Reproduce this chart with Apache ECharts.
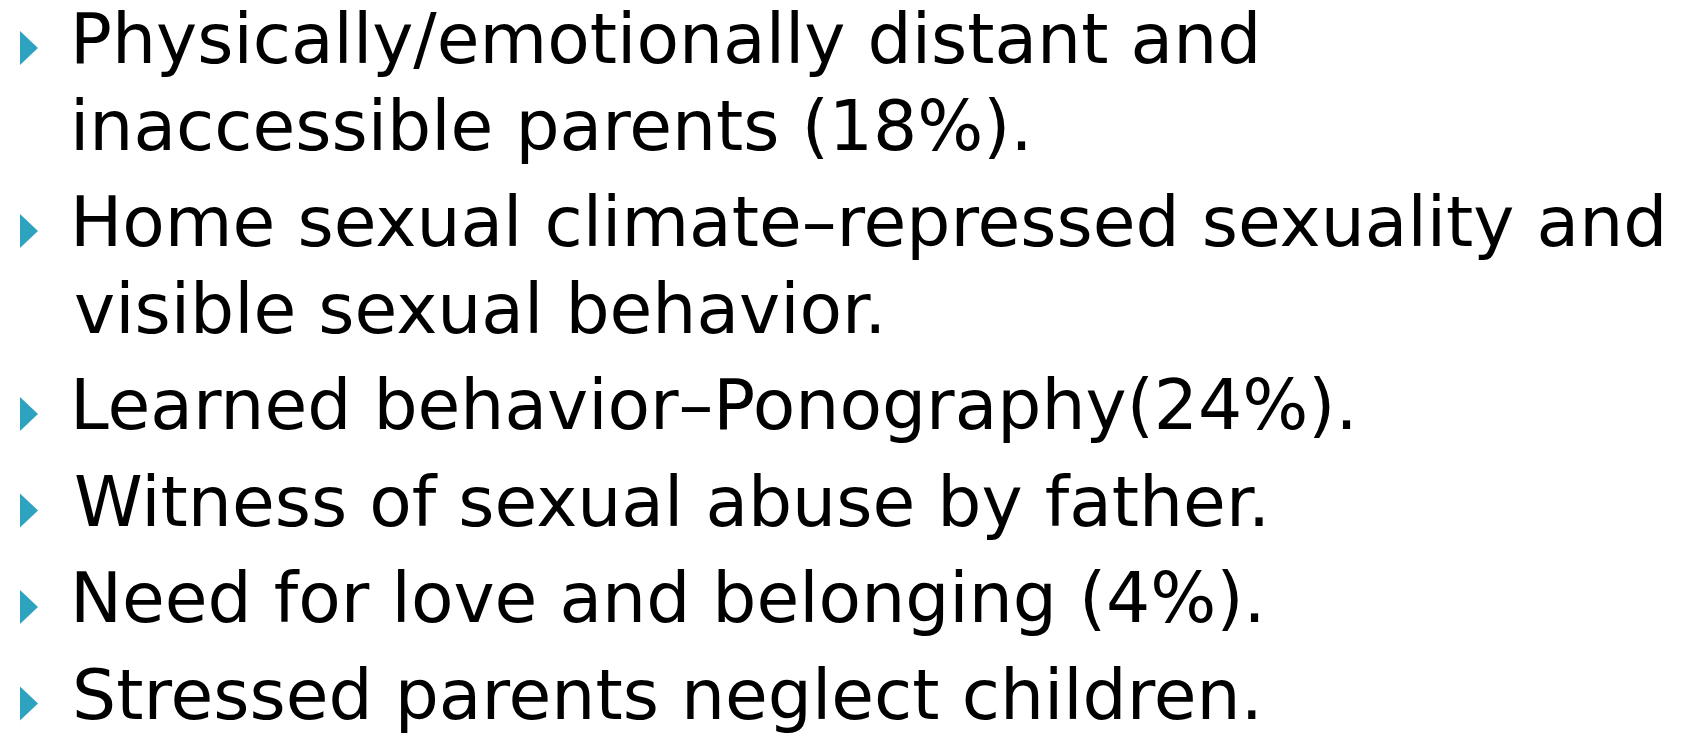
<!DOCTYPE html>
<html>
<head>
<meta charset="utf-8">
<script src="https://cdn.jsdelivr.net/npm/echarts@6/dist/echarts.min.js"></script>
<style>
html,body{margin:0;padding:0;background:#fff;}
#main{width:1683px;height:735px;}
</style>
</head>
<body>
<div id="main"></div>
<script>
// Bullet items (each item may wrap onto a second line, as in the reference)
const bulletItems = [
  ["Physically/emotionally distant and", "inaccessible parents (18%)."],
  ["Home sexual climate\u2013repressed sexuality and", "visible sexual behavior."],
  ["Learned behavior\u2013Ponography(24%)."],
  ["Witness of sexual abuse by father."],
  ["Need for love and belonging (4%)."],
  ["Stressed parents neglect children."]
];

// Layout / style constants
const FONT_SIZE = 70;
const FONT_FAMILY = '"DejaVu Sans"';
const TEXT_LEFT = 76;          // ink left edge of text
const WIDEST_INK = 1586;       // ink width of the widest line
const FIRST_BASELINE = 66;
const LINE_GAP = 86.5;         // between wrapped lines of one item
const ITEM_GAP = 96.5;         // between items
const BULLET_COLOR = '#2da3bf';
const MIDDLE_OFFSET = 21;      // baseline -> canvas 'middle'

const ctx = document.createElement('canvas').getContext('2d');
ctx.font = FONT_SIZE + 'px ' + FONT_FAMILY;
let widest = null, widestW = 0;
bulletItems.forEach(it => it.forEach(l => {
  const m = ctx.measureText(l);
  const w = m.actualBoundingBoxRight + m.actualBoundingBoxLeft;
  if (w > widestW) { widestW = w; widest = m; }
}));
const scaleX = WIDEST_INK / widestW;

const elements = [];
let baseline = FIRST_BASELINE;
bulletItems.forEach((item, i) => {
  if (i > 0) baseline += ITEM_GAP;
  // bullet triangle
  elements.push({
    type: 'polygon',
    shape: { points: [[20, baseline - 35], [38, baseline - 18], [20, baseline - 1]] },
    style: { fill: BULLET_COLOR }
  });
  item.forEach((line, j) => {
    if (j > 0) baseline += LINE_GAP;
    const m = ctx.measureText(line);
    const x = TEXT_LEFT - scaleX * (-m.actualBoundingBoxLeft);
    elements.push({
      type: 'text',
      x: x,
      y: baseline - MIDDLE_OFFSET,
      scaleX: scaleX,
      style: {
        text: line,
        fontSize: FONT_SIZE,
        fontFamily: 'DejaVu Sans',
        fill: '#000',
        align: 'left',
        verticalAlign: 'middle'
      }
    });
  });
});

const chart = echarts.init(document.getElementById('main'), null, { renderer: 'canvas' });
chart.setOption({
  backgroundColor: '#ffffff',
  animation: false,
  graphic: { elements: elements }
});
</script>
</body>
</html>
